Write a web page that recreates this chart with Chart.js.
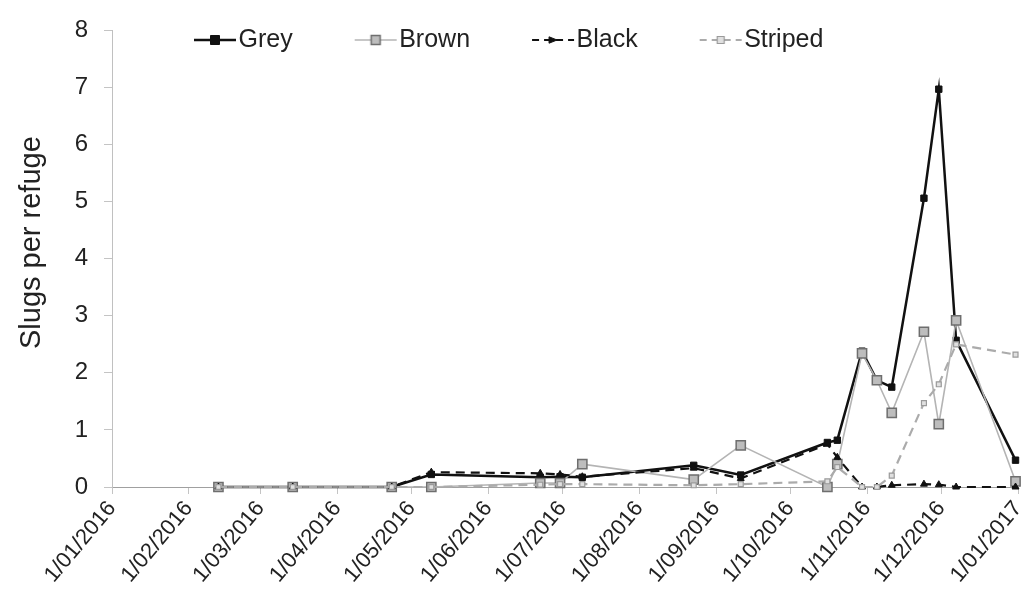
<!DOCTYPE html>
<html>
<head>
<meta charset="utf-8">
<script src="https://cdn.jsdelivr.net/npm/chart.js@4.4.1/dist/chart.umd.min.js"></script>
<style>
html,body{margin:0;padding:0;background:#fff;}
#wrap{width:1026px;height:599px;position:relative;}
</style>
</head>
<body>
<div id="wrap"><canvas id="c" width="1026" height="599"></canvas></div>
<script>
// ---- data ----
const sampleDates = ['2016-02-13','2016-03-14','2016-04-23','2016-05-09','2016-06-22','2016-06-30','2016-07-09','2016-08-23','2016-09-11','2016-10-16','2016-10-20','2016-10-30','2016-11-05','2016-11-11','2016-11-24','2016-11-30','2016-12-07','2016-12-31'];
const greySlugs    = [0, 0, 0, 0.22, 0.17, 0.18, 0.17, 0.38, 0.21, 0.78, 0.82, 2.38, 1.87, 1.75, 5.06, 6.97, 2.57, 0.47];
const brownSlugs   = [0, 0, 0, 0, 0.07, 0.07, 0.40, 0.13, 0.73, 0, 0.40, 2.34, 1.87, 1.30, 2.72, 1.10, 2.92, 0.10];
const blackSlugs   = [0, 0, 0, 0.26, 0.24, 0.22, 0.18, 0.33, 0.15, 0.75, 0.52, 0, 0, 0.03, 0.05, 0.04, 0, 0];
const stripedSlugs = [0, 0, 0, 0, 0.04, 0.05, 0.05, 0.03, 0.05, 0.10, 0.35, 0, 0, 0.20, 1.47, 1.80, 2.50, 2.32];
const seriesNames  = ['Grey', 'Brown', 'Black', 'Striped'];
const tickDates  = ['2016-01-01','2016-02-01','2016-03-01','2016-04-01','2016-05-01','2016-06-01','2016-07-01','2016-08-01','2016-09-01','2016-10-01','2016-11-01','2016-12-01','2017-01-01'];
const tickLabels = ['1/01/2016','1/02/2016','1/03/2016','1/04/2016','1/05/2016','1/06/2016','1/07/2016','1/08/2016','1/09/2016','1/10/2016','1/11/2016','1/12/2016','1/01/2017'];
const yTitle = 'Slugs per refuge';

// ---- helpers ----
const FONT = "'Liberation Sans', Arial, sans-serif";
const dayOf = s => { const [y,m,d] = s.split('-').map(Number); return (Date.UTC(y,m-1,d) - Date.UTC(2016,0,1)) / 86400000; };
const xDays = sampleDates.map(dayOf);
const tickDays = tickDates.map(dayOf);
const toPts = arr => arr.map((v, i) => ({x: xDays[i], y: v}));

const styles = [
  {line:'#111111', width:2.5, dash:[], marker:'rect', r:4.5, lr:4.5, fill:'#111111', stroke:'#111111', bw:1},
  {line:'#b4b4b4', width:1.6, dash:[], marker:'rect', r:6.5, lr:4.5, fill:'#bdbdbd', stroke:'#6e6e6e', bw:1.5},
  {line:'#111111', width:2.2, dash:[9,6], marker:'triangle', r:4, lr:4, fill:'#111111', stroke:'#111111', bw:1},
  {line:'#ababab', width:2.2, dash:[9,6], marker:'rect', r:3.5, lr:3.5, fill:'#e0e0e0', stroke:'#9a9a9a', bw:1.2}
];
const seriesValues = [greySlugs, brownSlugs, blackSlugs, stripedSlugs];

const datasets = seriesNames.map((name, i) => ({
  label: name,
  data: toPts(seriesValues[i]),
  borderColor: styles[i].line,
  borderWidth: styles[i].width,
  borderDash: styles[i].dash,
  pointStyle: styles[i].marker,
  pointRadius: styles[i].r,
  pointBackgroundColor: styles[i].fill,
  pointBorderColor: styles[i].stroke,
  pointBorderWidth: styles[i].bw,
  tension: 0,
  order: 4 - i,
  clip: false
}));

// legend symbol images (line + marker)
function makeSymbol(st) {
  const c = document.createElement('canvas');
  c.width = 64; c.height = 22;
  const g = c.getContext('2d');
  const x0 = 20, x1 = 62, cy = 11;
  g.strokeStyle = st.line; g.lineWidth = st.width;
  g.setLineDash(st.dash.length ? [7,5] : []);
  g.beginPath(); g.moveTo(x0, cy); g.lineTo(x1, cy); g.stroke();
  g.setLineDash([]);
  const cx = (x0 + x1) / 2, r = st.lr;
  g.fillStyle = st.fill; g.strokeStyle = st.stroke; g.lineWidth = st.bw;
  g.beginPath();
  if (st.marker === 'triangle') {
    g.moveTo(cx - r, cy - r * 0.8); g.lineTo(cx + r, cy); g.lineTo(cx - r, cy + r * 0.8); g.closePath();
  } else {
    g.rect(cx - r, cy - r, 2 * r, 2 * r);
  }
  g.fill(); g.stroke();
  return c;
}
const symbols = styles.map(makeSymbol);

const LEG_PAD = 54, LEG_X0 = 186, LEG_TEXT_CY = 40, LEG_FS = 25;
const legendPlacer = {
  id: 'legendPlacer',
  afterLayout(chart) {
    const lg = chart.legend;
    if (!lg) return;
    lg.left = LEG_X0 - LEG_PAD;
    lg.right = chart.width;
    lg.width = lg.right - lg.left;
    lg.top = LEG_TEXT_CY - LEG_FS / 2 - LEG_PAD;
    lg.bottom = chart.height;
    lg.height = lg.bottom - lg.top;
  }
};

new Chart(document.getElementById('c'), {
  type: 'line',
  data: { datasets },
  plugins: [legendPlacer],
  options: {
    responsive: false,
    animation: false,
    devicePixelRatio: 1,
    layout: { padding: { top: 24, right: 6, left: 0, bottom: 0 } },
    plugins: {
      tooltip: { enabled: false },
      legend: {
        position: 'top',
        align: 'start',
        maxHeight: 1,
        labels: {
          usePointStyle: true,
          pointStyleWidth: 40,
          boxHeight: LEG_FS,
          padding: LEG_PAD,
          color: '#222',
          font: { family: FONT, size: LEG_FS },
          sort: (a, b) => a.datasetIndex - b.datasetIndex,
          generateLabels(chart) {
            const items = Chart.defaults.plugins.legend.labels.generateLabels(chart);
            items.forEach(it => { it.pointStyle = symbols[it.datasetIndex]; it.rotation = 0; });
            return items;
          }
        }
      }
    },
    scales: {
      x: {
        type: 'linear',
        min: tickDays[0],
        max: tickDays[tickDays.length - 1],
        afterBuildTicks: s => { s.ticks = tickDays.map(v => ({ value: v })); },
        afterFit: s => { s.height = 112; s.paddingRight = 0; s.paddingLeft = 0; },
        grid: { drawOnChartArea: false, color: '#c4c4c4', tickLength: 7 },
        border: { color: '#a0a0a0', width: 1 },
        ticks: {
          autoSkip: false, minRotation: 50, maxRotation: 50,
          color: '#222', padding: 2,
          font: { family: FONT, size: 22 },
          callback: (v, i) => tickLabels[i]
        }
      },
      y: {
        min: 0, max: 8,
        afterFit: s => { s.width = 112; },
        grid: { drawOnChartArea: false, color: '#c4c4c4', tickLength: 8 },
        border: { color: '#c0c0c0', width: 1 },
        ticks: { stepSize: 1, color: '#222', padding: 16, font: { family: FONT, size: 24 } },
        title: {
          display: true, text: '    ' + yTitle, color: '#222',
          font: { family: FONT, size: 29 },
          padding: { top: 15, bottom: 0 }
        }
      }
    }
  }
});
</script>
</body>
</html>
